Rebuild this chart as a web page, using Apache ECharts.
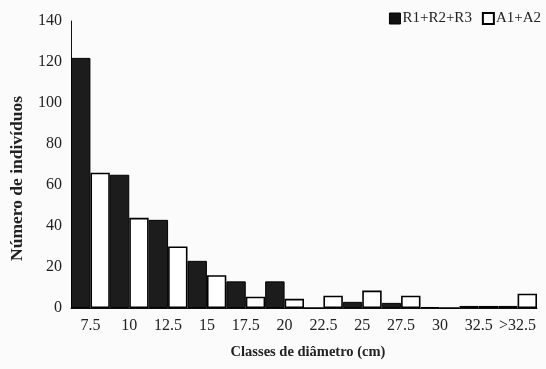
<!DOCTYPE html>
<html>
<head>
<meta charset="utf-8">
<script src="https://cdn.jsdelivr.net/npm/echarts@6/dist/echarts.min.js"></script>
<style>
  html, body { margin: 0; padding: 0; background: #fbfbfb; }
  #chart { width: 546px; height: 369px; }
</style>
</head>
<body>
<div id="chart"></div>
<script>
// Diameter classes (cm)
const classes = ['7.5', '10', '12.5', '15', '17.5', '20', '22.5', '25', '27.5', '30', '32.5', '>32.5'];
// Number of individuals per class
const seriesR = [122, 65, 43, 23, 13, 13, 0, 3, 2.5, 0.5, 1, 1];
const seriesA = [66, 44, 30, 16, 5.5, 4.5, 6, 8.5, 6, 0, 1, 7];
const yTicks = [0, 20, 40, 60, 80, 100, 120, 140];

const font = '"Liberation Serif", "Times New Roman", serif';
const chart = echarts.init(document.getElementById('chart'), null, { renderer: 'canvas' });

chart.setOption({
  backgroundColor: '#fbfbfb',
  animation: false,
  textStyle: { fontFamily: font },
  legend: {
    right: 0,
    top: 6,
    icon: 'rect',
    itemWidth: 11,
    itemHeight: 11,
    itemGap: 10,
    textStyle: { fontFamily: font, fontSize: 15, color: '#222', padding: [0, 0, 0, -3] },
    data: [
      { name: 'R1+R2+R3', itemStyle: { color: '#111', borderColor: '#000', borderWidth: 1 } },
      { name: 'A1+A2', itemStyle: { color: '#fff', borderColor: '#000', borderWidth: 2 } }
    ]
  },
  grid: { left: 71, right: 9, top: 21, bottom: 61 },
  graphic: [{
    type: 'text',
    left: 8,
    top: 96,
    rotation: Math.PI / 2,
    style: {
      text: 'Número de indivíduos',
      font: 'bold 17.5px ' + font,
      fill: '#222'
    }
  }],
  xAxis: {
    type: 'category',
    data: classes,
    name: 'Classes de diâmetro (cm)',
    nameLocation: 'middle',
    nameGap: 37,
    nameTextStyle: { fontFamily: font, fontSize: 14.5, fontWeight: 'bold', color: '#222', padding: [0, 0, 0, 8] },
    axisLine: { show: true, lineStyle: { color: '#111', width: 1 } },
    axisTick: { show: false },
    axisLabel: { interval: 0, fontFamily: font, fontSize: 16, color: '#222', margin: 10 }
  },
  yAxis: {
    type: 'value',
    min: yTicks[0],
    max: yTicks[yTicks.length - 1],
    interval: 20,
    axisLine: { show: true, lineStyle: { color: '#111', width: 1 } },
    axisTick: { show: false },
    splitLine: { show: false },
    axisLabel: { fontFamily: font, fontSize: 16, color: '#222', margin: 9 }
  },
  series: [
    {
      name: 'R1+R2+R3',
      type: 'bar',
      data: seriesR,
      barGap: '0%',
      barCategoryGap: '0%',
      itemStyle: { color: '#1c1c1c', borderColor: '#000', borderWidth: 1 }
    },
    {
      name: 'A1+A2',
      type: 'bar',
      data: seriesA,
      barGap: '0%',
      barCategoryGap: '0%',
      itemStyle: { color: '#ffffff', borderColor: '#000', borderWidth: 1.6 }
    }
  ]
});
</script>
</body>
</html>
